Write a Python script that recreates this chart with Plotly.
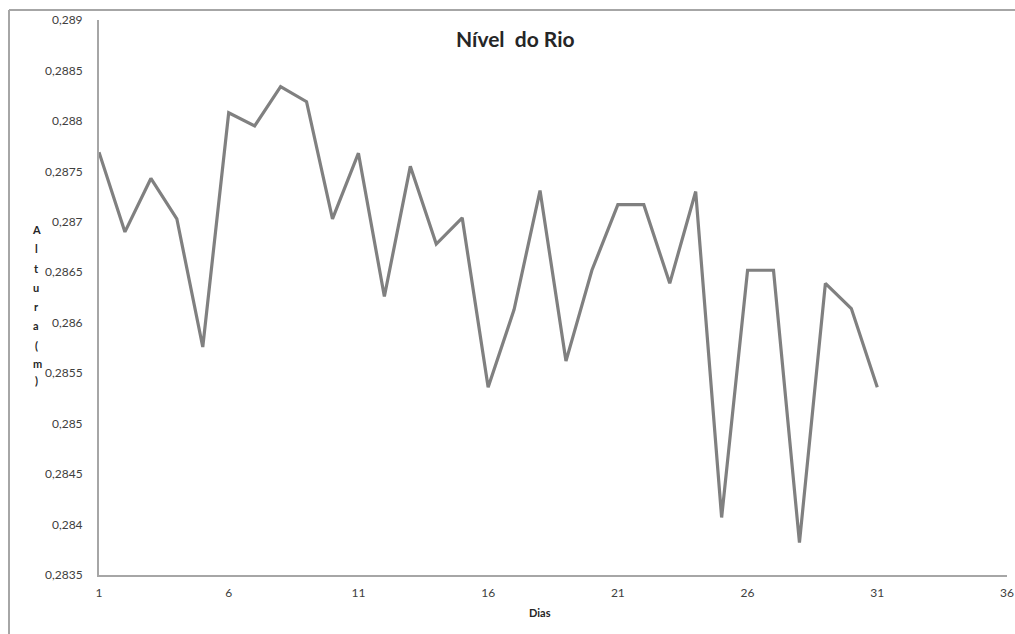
import plotly.graph_objects as go

dias = list(range(1, 32))
nivel = [0.28769, 0.28690, 0.28743, 0.28703, 0.28576, 0.28808, 0.28795, 0.28834,
         0.28819, 0.28703, 0.28768, 0.28626, 0.28755, 0.28678, 0.28704, 0.28536,
         0.28613, 0.28731, 0.28562, 0.28652, 0.28717, 0.28717, 0.28639, 0.28730,
         0.28407, 0.28652, 0.28652, 0.28382, 0.28639, 0.28614, 0.28536]

y_tickvals = [0.2835, 0.284, 0.2845, 0.285, 0.2855, 0.286, 0.2865, 0.287, 0.2875, 0.288, 0.2885, 0.289]
y_ticktext = ["0,2835", "0,284", "0,2845", "0,285", "0,2855", "0,286", "0,2865", "0,287",
              "0,2875", "0,288", "0,2885", "0,289"]
x_tickvals = [1, 6, 11, 16, 21, 26, 31, 36]

title_text = "Nível\u00a0 do Rio"
x_title = "Dias"
y_title_letters = ["A", "l", "t", "u", "r", "a", "(", "m", ")"]

W, H = 1015, 634
PL, PR, PT, PB = 99, 1007, 20, 575  # plot area in page pixels
L, R, T, B = PL, W - PR, PT, H - PB
pw, ph = W - L - R, H - T - B

def px_x(px):
    return (px - PL) / pw

def px_y(py):
    return (PB - py) / ph

FONT = "Lato, 'Open Sans', sans-serif"
TXT = "#404040"
DARK = "#262626"

fig = go.Figure()
fig.add_trace(go.Scatter(
    x=dias, y=nivel, mode="lines",
    line=dict(color="#808080", width=3.2),
    hoverinfo="x+y", showlegend=False,
))

annotations = [
    dict(text="<b>" + title_text + "</b>", xref="paper", yref="paper",
         x=px_x(515), y=px_y(38), showarrow=False,
         font=dict(family=FONT, size=21, color=DARK), xanchor="center", yanchor="middle"),
    dict(text="<b>" + x_title + "</b>", xref="paper", yref="paper",
         x=px_x(540), y=px_y(612), showarrow=False,
         font=dict(family=FONT, size=11, color=DARK), xanchor="center", yanchor="middle"),
]
ys = [229, 248, 268, 287, 306, 326, 345, 363, 380]
xs = [36, 36, 36, 36, 36, 36, 36, 37, 36]
for ch, xx, yy in zip(y_title_letters, xs, ys):
    annotations.append(dict(text="<b>" + ch + "</b>", xref="paper", yref="paper",
                            x=px_x(xx), y=px_y(yy), showarrow=False,
                            font=dict(family=FONT, size=11, color=DARK),
                            xanchor="center", yanchor="middle"))

fig.update_layout(
    width=W, height=H,
    margin=dict(l=L, r=R, t=T, b=B, pad=0, autoexpand=False),
    paper_bgcolor="white", plot_bgcolor="white",
    font=dict(family=FONT, size=12, color=TXT),
    xaxis=dict(range=[1, 36], tickvals=x_tickvals, showgrid=False, zeroline=False,
               showline=True, linecolor="#a6a6a6", linewidth=2, ticks="",
               ticklabelstandoff=6, automargin=False, ticklabeloverflow="allow",
               tickfont=dict(family=FONT, size=12, color=TXT)),
    yaxis=dict(range=[0.2835, 0.289], tickvals=y_tickvals, ticktext=y_ticktext,
               showgrid=False, zeroline=False, showline=True, linecolor="#a6a6a6",
               linewidth=2, ticks="", ticklabelstandoff=12, automargin=False,
               ticklabeloverflow="allow",
               tickfont=dict(family=FONT, size=12, color=TXT)),
    annotations=annotations,
    shapes=[
        dict(type="line", xref="paper", yref="paper", x0=px_x(9), x1=px_x(1030),
             y0=px_y(10), y1=px_y(10), line=dict(color="#a6a6a6", width=2)),
        dict(type="line", xref="paper", yref="paper", x0=px_x(9), x1=px_x(9),
             y0=px_y(10), y1=px_y(650), line=dict(color="#a6a6a6", width=2)),
    ],
)

fig.write_html(
    "out.html",
    config={"displayModeBar": False},
    post_script="document.body.style.margin='0';"
                "document.documentElement.style.overflow='hidden';"
                "document.body.style.overflow='hidden';",
)
